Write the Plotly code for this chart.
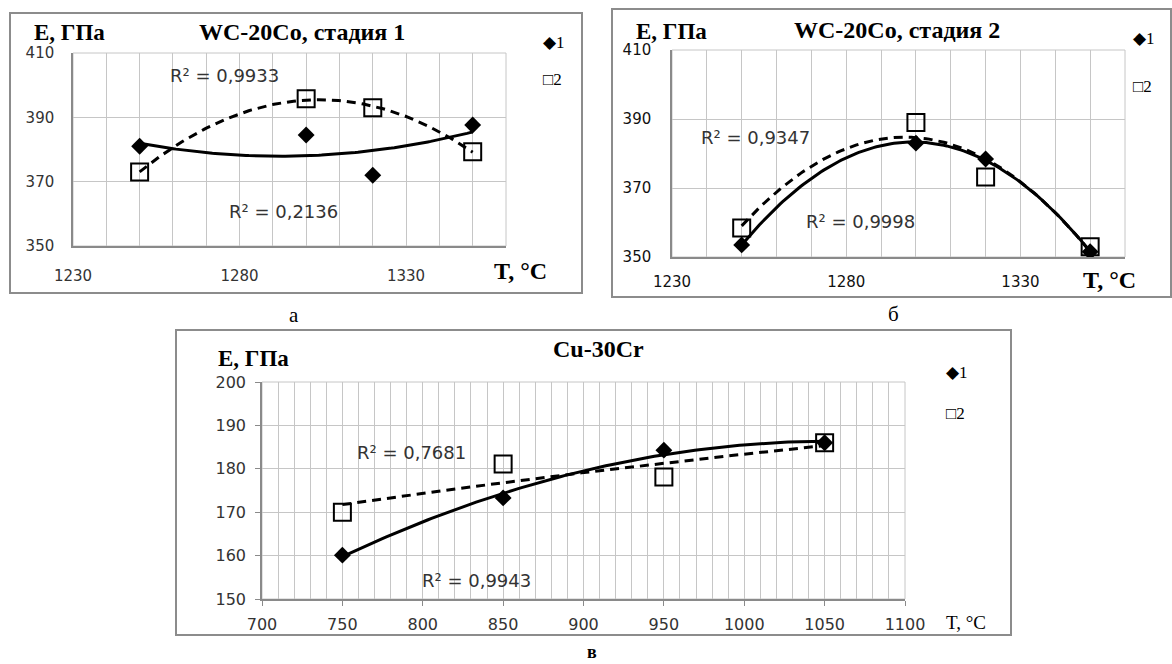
import numpy as np
import plotly.graph_objects as go

W, H = 1172, 664

# ---------------- data ----------------
t_wc = [1250, 1300, 1320, 1350]
e_a1 = [381.0, 384.5, 372.0, 387.6]   # WC-20Co stage 1, series 1
e_a2 = [373.0, 395.8, 393.0, 379.3]   # WC-20Co stage 1, series 2
e_b1 = [353.5, 383.0, 378.4, 351.5]   # WC-20Co stage 2, series 1
e_b2 = [358.4, 389.0, 373.2, 353.0]   # WC-20Co stage 2, series 2
t_cu = [750, 850, 950, 1050]
e_c1 = [160.1, 173.3, 184.3, 186.0]   # Cu-30Cr, series 1
e_c2 = [170.0, 181.1, 178.1, 186.0]   # Cu-30Cr, series 2

r2_labels = {
    "a2": "R² = 0,9933", "a1": "R² = 0,2136",
    "b2": "R² = 0,9347", "b1": "R² = 0,9998",
    "c2": "R² = 0,7681", "c1": "R² = 0,9943",
}

SERIF = "Liberation Serif"
SANS = "DejaVu Sans"


def fit_poly2(x, y):
    x = np.asarray(x, float); y = np.asarray(y, float)
    c = np.polyfit(x, y, 2)
    xs = np.linspace(x.min(), x.max(), 120)
    return xs, np.polyval(c, xs)


def fit_log(x, y):
    x = np.asarray(x, float); y = np.asarray(y, float)
    c = np.polyfit(np.log(x), y, 1)
    xs = np.linspace(x.min(), x.max(), 120)
    return xs, np.polyval(c, np.log(xs))


def px_x(p):
    return p / W


def px_y(p):
    return 1 - p / H


fig = go.Figure()

panels = [
    ("a", t_wc, e_a1, e_a2, fit_poly2, fit_poly2, ""),
    ("b", t_wc, e_b1, e_b2, fit_poly2, fit_poly2, "2"),
    ("c", t_cu, e_c1, e_c2, fit_poly2, fit_log, "3"),
]

for key, xd, s1, s2, f1, f2, sfx in panels:
    xa, ya = "x" + sfx, "y" + sfx
    xs, ys = f1(xd, s1)
    fig.add_trace(go.Scatter(x=xs, y=ys, mode="lines", xaxis=xa, yaxis=ya,
                             line=dict(color="black", width=3), showlegend=False,
                             hoverinfo="skip"))
    xs, ys = f2(xd, s2)
    fig.add_trace(go.Scatter(x=xs, y=ys, mode="lines", xaxis=xa, yaxis=ya,
                             line=dict(color="black", width=3, dash="9px,6px"),
                             showlegend=False, hoverinfo="skip"))
    fig.add_trace(go.Scatter(x=xd, y=s2, mode="markers", xaxis=xa, yaxis=ya,
                             marker=dict(symbol="square-open", size=17, color="black",
                                         line=dict(width=2, color="black")),
                             showlegend=False, name="2"))
    fig.add_trace(go.Scatter(x=xd, y=s1, mode="markers", xaxis=xa, yaxis=ya,
                             marker=dict(symbol="diamond", size=13, color="black"),
                             showlegend=False, name="1"))

GRID = "#c6c6c6"
AXL = "#8a8a8a"


def xax(dom, rng, tick0, minor_dtick, fsize, tcol, standoff, anchor, ticks="", weight="normal"):
    return dict(domain=dom, range=rng, tick0=tick0, dtick=50, showgrid=True,
                gridcolor=GRID, gridwidth=1, zeroline=False, automargin=False,
                minor=dict(dtick=minor_dtick, tick0=tick0, showgrid=True,
                           gridcolor=GRID, gridwidth=1),
                showline=True, linecolor=AXL, linewidth=1.5, anchor=anchor,
                ticks=ticks, ticklen=5, tickcolor=AXL,
                tickfont=dict(family=SANS, size=fsize, color=tcol, weight=weight),
                ticklabelstandoff=standoff, fixedrange=True)


def yax(dom, rng, dtick, fsize, tcol, standoff, anchor, ticks="", weight="normal"):
    return dict(domain=dom, range=rng, dtick=dtick, tick0=rng[0], showgrid=True,
                gridcolor=GRID, gridwidth=1, zeroline=False, automargin=False,
                showline=True, linecolor=AXL, linewidth=1.5,
                ticks=ticks, ticklen=5, tickcolor=AXL, anchor=anchor,
                tickfont=dict(family=SANS, size=fsize, color=tcol, weight=weight),
                ticklabelstandoff=standoff, fixedrange=True)


fig.update_layout(
    template="none",
    width=W, height=H, margin=dict(l=0, r=0, t=0, b=0, autoexpand=False),
    paper_bgcolor="white", plot_bgcolor="white",
    xaxis=xax([px_x(73), px_x(506)], [1230, 1360], 1230, 10, 15, "#333", 15, "y"),
    yaxis=yax([px_y(246), px_y(53)], [350, 410], 20, 15, "#333", 14, "x"),
    xaxis2=xax([px_x(672), px_x(1125)], [1230, 1360], 1230, 10, 15, "#111", 10, "y2"),
    yaxis2=yax([px_y(257), px_y(50)], [350, 410], 20, 15, "#111", 16, "x2"),
    xaxis3=xax([px_x(262), px_x(905)], [700, 1100], 700, 10, 16, "#333", 5, "y3", ticks="outside"),
    yaxis3=yax([px_y(599), px_y(382)], [150, 200], 10, 16, "#333", 6, "x3", ticks="outside"),
)

shapes = []
for (x0, y0, x1, y1) in [(10, 13, 582, 293), (612, 9, 1171, 297), (176, 330, 1011, 635)]:
    shapes.append(dict(type="rect", xref="paper", yref="paper",
                       x0=px_x(x0), x1=px_x(x1), y0=px_y(y1), y1=px_y(y0),
                       line=dict(color="#8c8c8c", width=2), layer="below"))
for sfx in ["", "2", "3"]:
    shapes.append(dict(type="rect", xref="x" + sfx + " domain", yref="y" + sfx + " domain",
                       x0=0, x1=1, y0=0, y1=1, line=dict(color=GRID, width=1), layer="below"))
fig.update_layout(shapes=shapes)

ann = []


def text(x, y, s, family, size, bold=False, color="black", xanchor="center"):
    ann.append(dict(xref="paper", yref="paper", x=px_x(x), y=px_y(y), text=s,
                    showarrow=False, xanchor=xanchor, yanchor="middle",
                    font=dict(family=family, size=size, color=color,
                              weight="bold" if bold else "normal")))


text(302, 32, "WC-20Co, стадия 1", SERIF, 24, True)
text(897, 30, "WC-20Co, стадия 2", SERIF, 24, True)
text(598, 349, "Cu-30Cr", SERIF, 24, True)
text(69, 33, "E, ГПа", SERIF, 23, True)
text(671, 31, "E, ГПа", SERIF, 23, True)
text(253, 359, "E, ГПа", SERIF, 23, True)
text(520, 271, "T, °C", SERIF, 24, True)
text(1109, 280, "T, °C", SERIF, 24, True)
text(966, 622, "T, °C", SERIF, 19, False)
text(224, 76, r2_labels["a2"], SANS, 18, color="#333")
text(283, 212, r2_labels["a1"], SANS, 18, color="#333")
text(755, 137, r2_labels["b2"], SANS, 18, color="#333")
text(860, 222, r2_labels["b1"], SANS, 18, color="#333")
text(411, 452, r2_labels["c2"], SANS, 18, color="#333")
text(476, 580, r2_labels["c1"], SANS, 18, color="#333")
for (lx, ly1, ly2) in [(541, 42, 80), (1131, 38, 87), (944, 372, 413)]:
    text(lx, ly1, "◆1", SERIF, 17, xanchor="left")
    text(lx, ly2, "□2", SERIF, 17, xanchor="left")
text(294, 315, "а", SERIF, 21)
text(893, 314, "б", SERIF, 21)
text(592, 652, "в", SERIF, 18, True)

fig.update_layout(annotations=ann)

fig.write_html(
    "out.html",
    config={"displayModeBar": False},
    post_script="document.body.style.margin='0px';document.body.style.overflow='hidden';",
)
